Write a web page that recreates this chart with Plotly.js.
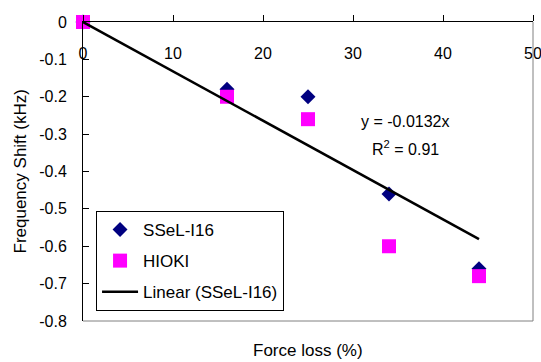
<!DOCTYPE html>
<html>
<head>
<meta charset="utf-8">
<script src="https://cdn.plot.ly/plotly-3.0.1.min.js"></script>
<style>html,body{margin:0;padding:0;background:#fff;}</style>
</head>
<body>
<div id="chart" style="width:541px;height:362px;"></div>
<script>
// Data
const forceLoss = [0, 16, 25, 34, 44];
const sselShift = [0, -0.18, -0.2, -0.46, -0.66];
const hiokiShift = [0, -0.2, -0.26, -0.6, -0.68];
const trendSlope = -0.0132;
const trendX = [0, 44];
const trendY = trendX.map(x => trendSlope * x);
const xTickVals = [0, 10, 20, 30, 40, 50];
const xTickText = ["0", "10", "20", "30", "40", "50"];
const yTickVals = [0, -0.1, -0.2, -0.3, -0.4, -0.5, -0.6, -0.7, -0.8];
const yTickText = ["0", "-0.1", "-0.2", "-0.3", "-0.4", "-0.5", "-0.6", "-0.7", "-0.8"];

const font = "Arial, 'Liberation Sans', sans-serif";

const traces = [
  {
    x: forceLoss, y: sselShift, type: 'scatter', mode: 'markers', name: 'SSeL-I16',
    marker: {symbol: 'diamond', size: 11.5, color: '#000080'},
    cliponaxis: false, legendgroup: 'a'
  },
  {
    x: forceLoss, y: hiokiShift, type: 'scatter', mode: 'markers', name: 'HIOKI',
    marker: {symbol: 'square', size: 14, color: '#FF00FF'},
    cliponaxis: false, legendgroup: 'b'
  },
  {
    x: trendX, y: trendY, type: 'scatter', mode: 'lines', name: 'Linear (SSeL-I16)',
    line: {color: '#000000', width: 2.5},
    cliponaxis: false, legendgroup: 'c'
  }
];

const layout = {
  width: 541, height: 362,
  margin: {l: 83, r: 8, t: 22, b: 41, pad: 0},
  paper_bgcolor: '#ffffff', plot_bgcolor: '#ffffff',
  font: {family: font, size: 16, color: '#000000'},
  showlegend: true,
  xaxis: {
    range: [0, 50], side: 'top', anchor: 'y',
    tickvals: xTickVals, ticktext: xTickText,
    ticks: 'outside', ticklen: 6, tickcolor: '#000', tickwidth: 1,
    ticklabelposition: 'inside', ticklabelstandoff: 26, ticklabeloverflow: 'allow',
    showline: true, linecolor: '#000', linewidth: 1,
    showgrid: false, zeroline: false,
    tickfont: {family: font, size: 16, color: '#000'}
  },
  yaxis: {
    range: [-0.8, 0],
    tickvals: yTickVals, ticktext: yTickText,
    ticks: 'inside', ticklen: 6, tickcolor: '#000', tickwidth: 1,
    ticklabelstandoff: 12, ticklabeloverflow: 'allow',
    showline: true, linecolor: '#000', linewidth: 1,
    showgrid: false, zeroline: false,
    tickfont: {family: font, size: 16, color: '#000'}
  },
  legend: {
    x: 0.029, y: 0.368, xanchor: 'left', yanchor: 'top',
    bordercolor: '#000', borderwidth: 1, bgcolor: '#fff',
    font: {family: font, size: 17, color: '#000'},
    tracegroupgap: 6, traceorder: 'grouped', itemwidth: 36
  },
  shapes: [
    {type: 'line', xref: 'paper', yref: 'paper', x0: 1, x1: 1, y0: 0, y1: 1, line: {color: '#808080', width: 1}},
    {type: 'line', xref: 'paper', yref: 'paper', x0: 0, x1: 1, y0: 0, y1: 0, line: {color: '#808080', width: 1}}
  ],
  annotations: [
    {text: 'y = -0.0132x', xref: 'x', yref: 'y', x: 35.8, y: -0.267, showarrow: false,
     font: {family: font, size: 16, color: '#000'}},
    {text: 'R<sup>2</sup> = 0.91', xref: 'x', yref: 'y', x: 35.8, y: -0.337, showarrow: false,
     font: {family: font, size: 16, color: '#000'}},
    {text: 'Force loss (%)', xref: 'paper', yref: 'paper', x: 0.5, y: -0.1, yanchor: 'middle', showarrow: false,
     font: {family: font, size: 17, color: '#000'}},
    {text: 'Frequency Shift (kHz)', xref: 'paper', yref: 'paper', x: -0.14, y: 0.5, textangle: -90,
     xanchor: 'center', yanchor: 'middle', showarrow: false,
     font: {family: font, size: 17, color: '#000'}}
  ]
};

Plotly.newPlot('chart', traces, layout, {displayModeBar: false, staticPlot: true});
</script>
</body>
</html>
